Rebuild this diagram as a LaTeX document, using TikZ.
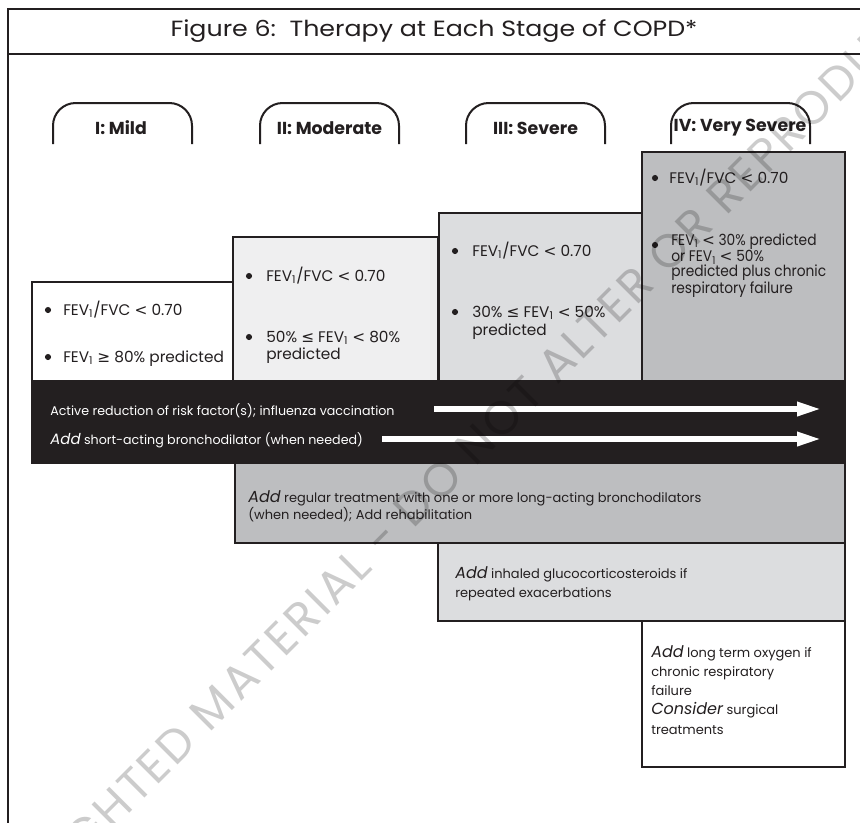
\documentclass[tikz,border=0pt]{standalone}
\usepackage{fontspec}
\setmainfont{Poppins}
\newfontfamily\titlef[FakeStretch=1.15]{Poppins}
\newfontfamily\narrowf[FakeStretch=0.9]{Poppins}
\newfontfamily\symf{DejaVu Sans}
\newfontfamily\wmf[LetterSpace=6]{Poppins}
\usetikzlibrary{arrows.meta}
\definecolor{ink}{HTML}{231F20}
\definecolor{grayA}{HTML}{EFEFF0}
\definecolor{grayB}{HTML}{DCDDDF}
\definecolor{grayC}{HTML}{BDBEC0}
\newcommand\fsz[2]{\fontsize{#1}{#2}\selectfont}
\newcommand\FEV{FEV\textsubscript{1}}
\newcommand\gte{{\symf ≥}}
\newcommand\lte{{\symf ≤}}
\newcommand\lts{{\symf <}}
\newcommand\addit[1]{{\itshape\fsz{12}{12}#1}}
\newcommand\addband[1]{{\itshape\fsz{11.25}{12}#1}}
\begin{document}
\begin{tikzpicture}[x=0.75pt,y=-0.75pt,
  frameline/.style={draw=ink,line width=1.6pt},
  boxline/.style={draw=ink,line width=1.6pt},
  tabline/.style={draw=ink,line width=1.5pt,rounded corners=17pt},
  tablabel/.style={font=\bfseries\fsz{13}{14},text=ink,inner sep=0pt},
  dotb/.style={circle,fill=ink,inner sep=0pt,minimum size=4.6pt},
  bultext/.style={font=\fsz{11.5}{12.75},text=ink,inner sep=0pt,anchor=base west,align=left},
  bandtext/.style={font=\fsz{9.5}{12},text=white,inner sep=0pt,anchor=base west},
  addtext/.style={font=\fsz{9.75}{12.75},text=ink,inner sep=0pt,anchor=base west,align=left},
  whitearrow/.style={draw=white,line width=4pt,-{Triangle[length=18pt,width=10pt]}},
]
\useasboundingbox (0,0) rectangle (860,822);
\fill[white] (0,0) rectangle (860,822);
\begin{scope}
\clip (0,0) rectangle (860,822);
% frame
\draw[frameline] (8,9) rectangle (900,900);
\draw[frameline] (8,54) -- (900,54);
\node[font=\titlef\fsz{16.5}{18},text=ink,inner sep=0pt] (title) at (434,31) {Figure 6:\ \ Therapy at Each Stage of COPD*};
% tabs
\draw[tabline] (53,144) -- (53,103) -- (192,103) -- (192,144);
\draw[tabline] (260,144) -- (260,103) -- (399,103) -- (399,144);
\draw[tabline] (466,144) -- (466,103) -- (605,103) -- (605,144);
\draw[tabline] (671,144) -- (671,103) -- (810,103) -- (810,144);
\node[tablabel] (tab1) at (121,128) {I: Mild};
\node[tablabel] (tab2) at (329.5,128) {II: Moderate};
\node[tablabel] (tab3) at (535.5,128) {III: Severe};
\node[tablabel] (tab4) at (740,128) {IV: Very Severe};
% stage boxes
\filldraw[boxline,fill=white] (32,282) rectangle (233,381);
\filldraw[boxline,fill=grayA] (233,237) rectangle (438,381);
\filldraw[boxline,fill=grayB] (439,213) rectangle (642,381);
\filldraw[boxline,fill=grayC] (642,152) rectangle (845,381);
% box I
\node[dotb] (b1a) at (48,310) {};
\node[bultext] (s1a) at (63,315) {\FEV/FVC \lts\ 0.70};
\node[dotb] (b1b) at (48,357) {};
\node[bultext] (s1b) at (63,362) {\FEV\ \gte\ 80\% predicted};
% box II
\node[dotb] (b2a) at (249,276) {};
\node[bultext] (s2a) at (266,281) {\FEV/FVC \lts\ 0.70};
\node[dotb] (b2b) at (249,337) {};
\node[bultext,font=\fsz{11.5}{12.75}] (s2b) at (266,359) {50\% \lte\ \FEV\ \lts\ 80\%\\predicted};
% box III
\node[dotb] (b3a) at (455,251) {};
\node[bultext] (s3a) at (472,256) {\FEV/FVC \lts\ 0.70};
\node[dotb] (b3b) at (455,312) {};
\node[bultext,font=\fsz{11.5}{13.5}] (s3b) at (472,335) {30\% \lte\ \FEV\ \lts\ 50\%\\predicted};
% box IV
\node[dotb] (b4a) at (655,178) {};
\node[bultext] (s4a) at (669,183) {\FEV/FVC \lts\ 0.70};
\node[dotb] (b4b) at (655,245) {};
\node[bultext,font=\narrowf\fsz{11.5}{10.9}] (s4b) at (671,293.5) {\FEV\ \lts\ 30\% predicted\\or \FEV\ \lts\ 50\%\\predicted plus chronic\\respiratory failure};
% black band
\filldraw[draw=ink,fill=ink,line width=1.5pt] (32,381) rectangle (845,463);
\node[bandtext] (band1) at (50,415) {Active reduction of risk factor(s); influenza vaccination};
\node[bandtext] (band2) at (50,444) {\addband{Add} short-acting bronchodilator (when needed)};
\coordinate (a1s) at (434,409);
\coordinate (a1e) at (821,409);
\coordinate (a2s) at (382,439);
\coordinate (a2e) at (821,439);
\draw[whitearrow] (a1s) -- (a1e);
\draw[whitearrow] (a2s) -- (a2e);
% treatment boxes
\filldraw[boxline,fill=grayC] (235,463) rectangle (845,543);
\node[addtext] (reg) at (248,519) {\addit{Add} regular treatment with one or more long-acting bronchodilators\\(when needed); Add rehabilitation};
\filldraw[boxline,fill=grayB] (438,543) rectangle (845,621);
\node[addtext,font=\fsz{9.75}{14.25}] (inh) at (455,597) {\addit{Add} inhaled glucocorticosteroids if\\repeated exacerbations};
\filldraw[boxline,fill=white] (642,621) rectangle (845,767);
\node[addtext,font=\fsz{9.75}{14.4}] (oxy) at (651,734) {\addit{Add} long term oxygen if\\chronic respiratory\\failure\\\addit{Consider} surgical\\treatments};
% watermark
\node[font=\wmf\fsz{35}{35},text=black,text opacity=0.2,rotate=45,inner sep=0pt] (wm) at (432,488) {COPYRIGHTED MATERIAL - DO NOT ALTER OR REPRODUCE};
\end{scope}
\end{tikzpicture}
\end{document}
